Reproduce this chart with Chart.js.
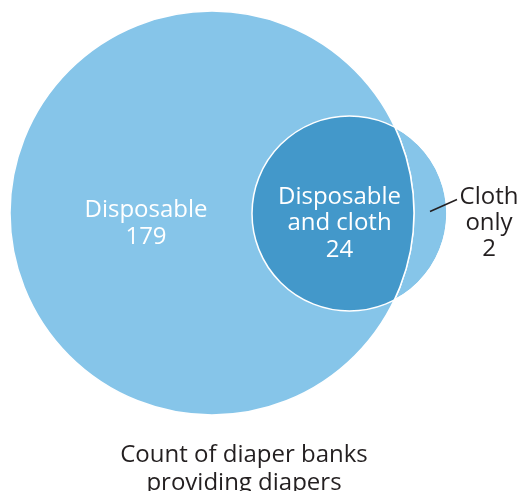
<!DOCTYPE html>
<html>
<head>
<meta charset="utf-8">
<script src="https://cdn.jsdelivr.net/npm/chart.js@4.4.1/dist/chart.umd.min.js"></script>
<style>
  html, body { margin: 0; padding: 0; background: #ffffff; }
  #wrap { width: 521px; height: 491px; }
</style>
</head>
<body>
<div id="wrap"><canvas id="venn" width="521" height="491"></canvas></div>
<script>
// Diaper banks by type of diaper they provide
const setNames = ['Disposable', 'Cloth'];
const regionLabels = [['Disposable'], ['Disposable', 'and cloth'], ['Cloth', 'only']];
const regionCounts = [179, 24, 2];
const titleLines = ['Count of diaper banks', 'providing diapers'];

// Venn layout in plot units (one unit per canvas pixel)
const circleLayout = [
  { x: 212, y: 213, r: 202 },
  { x: 349.5, y: 213.5, r: 97.5 }
];
const labelAnchors = [
  { x: 146, y: 216.7, lh: 27, color: '#ffffff' },
  { x: 339.5, y: 204, lh: 26.4, color: '#ffffff' },
  { x: 489, y: 203.5, lh: 26.4, color: '#231f20' }
];
const leader = { from: { x: 430, y: 211.5 }, to: { x: 457, y: 199.5 } };
const titleAnchor = { x: 244, y: 462, lh: 28 };

const LIGHT = '#86c5e9';
const DARK = '#4398ca';
const FONT = '"Open Sans", "DejaVu Sans", sans-serif';

function circlePath(ctx, chart, c) {
  const xs = chart.scales.x, ys = chart.scales.y;
  const px = xs.getPixelForValue(c.x), py = ys.getPixelForValue(c.y);
  const pr = Math.abs(xs.getPixelForValue(c.x + c.r) - px);
  ctx.beginPath();
  ctx.arc(px, py, pr, 0, Math.PI * 2);
}

// Overlap region and outlines, then the region labels and the caption
const vennPlugin = {
  id: 'venn',
  afterDatasetsDraw(chart) {
    const ctx = chart.ctx;
    const [a, b] = circleLayout;
    ctx.save();
    circlePath(ctx, chart, a);
    ctx.clip();
    circlePath(ctx, chart, b);
    ctx.fillStyle = DARK;
    ctx.fill();
    ctx.restore();

    ctx.save();
    ctx.strokeStyle = '#ffffff';
    ctx.lineWidth = 1.5;
    circlePath(ctx, chart, b);
    ctx.stroke();
    ctx.save();
    circlePath(ctx, chart, b);
    ctx.clip();
    circlePath(ctx, chart, a);
    ctx.stroke();
    ctx.restore();
    ctx.restore();
  },
  afterDraw(chart) {
    const ctx = chart.ctx;
    const xs = chart.scales.x, ys = chart.scales.y;
    ctx.save();
    ctx.textAlign = 'center';
    ctx.textBaseline = 'alphabetic';
    ctx.font = '400 24px ' + FONT;
    regionLabels.forEach((lines, i) => {
      const an = labelAnchors[i];
      const all = lines.concat([String(regionCounts[i])]);
      ctx.fillStyle = an.color;
      all.forEach((t, k) => {
        ctx.fillText(t, xs.getPixelForValue(an.x), ys.getPixelForValue(an.y) + k * an.lh);
      });
    });

    ctx.strokeStyle = '#231f20';
    ctx.lineWidth = 1.4;
    ctx.beginPath();
    ctx.moveTo(xs.getPixelForValue(leader.from.x), ys.getPixelForValue(leader.from.y));
    ctx.lineTo(xs.getPixelForValue(leader.to.x), ys.getPixelForValue(leader.to.y));
    ctx.stroke();

    ctx.fillStyle = '#231f20';
    titleLines.forEach((t, k) => {
      ctx.fillText(t, titleAnchor.x, titleAnchor.y + k * titleAnchor.lh);
    });
    ctx.restore();
  }
};

new Chart(document.getElementById('venn'), {
  type: 'bubble',
  data: {
    datasets: setNames.map((name, i) => ({
      label: name,
      data: [{ x: circleLayout[i].x, y: circleLayout[i].y, r: circleLayout[i].r }],
      backgroundColor: LIGHT,
      borderColor: '#ffffff',
      borderWidth: 1.5,
      hoverRadius: 0,
      clip: false
    }))
  },
  options: {
    responsive: false,
    animation: false,
    events: [],
    layout: { padding: 0, autoPadding: false },
    scales: {
      x: { type: 'linear', min: 0, max: 521, display: false },
      y: { type: 'linear', min: 0, max: 491, reverse: true, display: false }
    },
    plugins: {
      legend: { display: false },
      tooltip: { enabled: false },
      title: { display: false }
    }
  },
  plugins: [vennPlugin]
});
</script>
</body>
</html>
